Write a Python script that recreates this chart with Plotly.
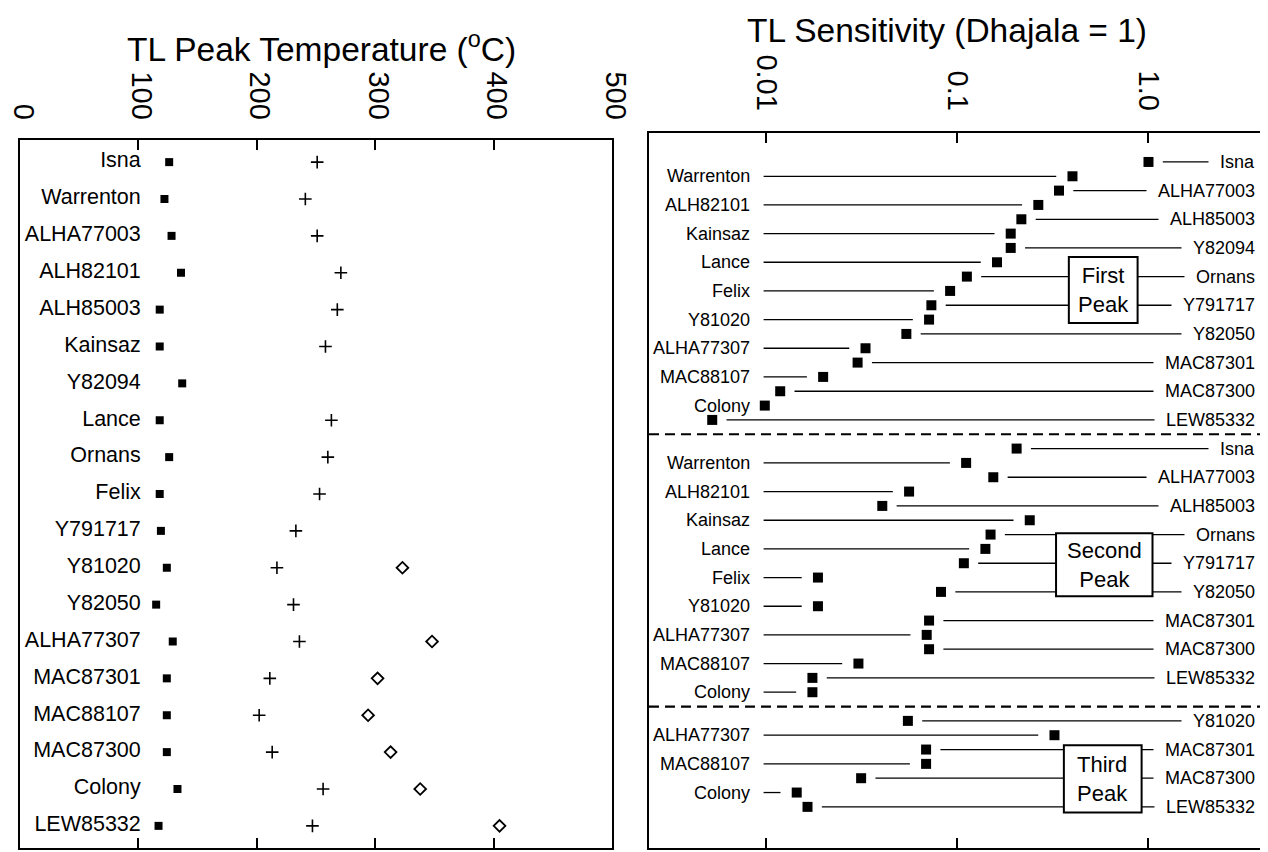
import numpy as np
import plotly.graph_objects as go

# ---------------- data: left panel (TL peak temperatures, deg C) ----------------
meteorites = ["Isna", "Warrenton", "ALHA77003", "ALH82101", "ALH85003", "Kainsaz",
              "Y82094", "Lance", "Ornans", "Felix", "Y791717", "Y81020", "Y82050",
              "ALHA77307", "MAC87301", "MAC88107", "MAC87300", "Colony", "LEW85332"]
first_peak_T = [126, 122, 128, 136, 118, 118, 137, 118, 126, 118, 119, 124, 115,
                129, 124, 124, 124, 133, 117]
second_peak_T = [251, 241, 251, 271, 268, 258, None, 263, 260, 253, 233, 217, 231,
                 236, 211, 202, 213, 256, 247]
third_peak_T = [None, None, None, None, None, None, None, None, None, None, None, 323, None,
                348, 302, 294, 313, 338, 405]
temp_ticks = [0, 100, 200, 300, 400, 500]

# ---------------- data: right panel (TL sensitivity, Dhajala = 1) ----------------
first_names = ["Isna", "Warrenton", "ALHA77003", "ALH82101", "ALH85003", "Kainsaz",
               "Y82094", "Lance", "Ornans", "Felix", "Y791717", "Y81020", "Y82050",
               "ALHA77307", "MAC87301", "MAC88107", "MAC87300", "Colony", "LEW85332"]
first_sens = [1.0, 0.40, 0.34, 0.265, 0.216, 0.19, 0.19, 0.161, 0.112, 0.0915, 0.073,
              0.071, 0.054, 0.033, 0.030, 0.0198, 0.0118, 0.0098, 0.0052]

second_names = ["Isna", "Warrenton", "ALHA77003", "ALH82101", "ALH85003", "Kainsaz",
                "Ornans", "Lance", "Y791717", "Felix", "Y82050", "Y81020", "MAC87301",
                "ALHA77307", "MAC87300", "MAC88107", "LEW85332", "Colony"]
second_sens = [0.204, 0.111, 0.154, 0.0558, 0.0404, 0.239, 0.149, 0.14, 0.108, 0.0186,
               0.082, 0.0186, 0.071, 0.069, 0.071, 0.0303, 0.0174, 0.0174]

third_names = ["Y81020", "ALHA77307", "MAC87301", "MAC88107", "MAC87300", "Colony", "LEW85332"]
third_sens = [0.055, 0.322, 0.0685, 0.0685, 0.0313, 0.0144, 0.0164]

sens_tickvals = [0.01, 0.1, 1.0]
sens_ticktext = ["0.01", "0.1", "1.0"]
peak_titles = ["First<br>Peak", "Second<br>Peak", "Third<br>Peak"]

FONT = "Liberation Sans, Arial, Helvetica, sans-serif"
W, H = 1268, 852
OFF = 8  # page body margin offset
NBSP = "\u00a0"


def px_x(p):
    return (p - OFF) / W


def px_y(p):
    return 1 - (p - OFF) / H


fig = go.Figure()

# ---------------- left panel ----------------
fig.add_trace(go.Scatter(x=first_peak_T, y=meteorites, mode="markers",
                         marker=dict(symbol="square", size=8, color="black"),
                         xaxis="x", yaxis="y"))
fig.add_trace(go.Scatter(x=second_peak_T, y=meteorites, mode="markers",
                         marker=dict(symbol="cross-thin", size=9, color="black",
                                     line=dict(width=1.6, color="black")),
                         xaxis="x", yaxis="y"))
fig.add_trace(go.Scatter(x=third_peak_T, y=meteorites, mode="markers",
                         marker=dict(symbol="diamond-open", size=9, color="black",
                                     line=dict(width=1.8, color="black")),
                         xaxis="x", yaxis="y"))
LABEL_X = 102
fig.add_trace(go.Scatter(x=[LABEL_X] * len(meteorites), y=meteorites, mode="text",
                         text=meteorites, textposition="middle left",
                         textfont=dict(family=FONT, size=21.5, color="black"),
                         xaxis="x", yaxis="y"))

# ---------------- right panel ----------------
sections = [(first_names, first_sens, 0), (second_names, second_sens, 20),
            (third_names, third_sens, 39)]
LEFT_LINE_START = -2.015     # log10, just after left labels
RIGHT_LINE_END = 0.56        # log10, hidden under right labels
GAP_R, GAP_L = 0.075, 0.085  # log10 gap between square and leader line
LEFT_LABEL_X = -2.083
RIGHT_LABEL_X = 0.57

sq_x, sq_y, lx, ly = [], [], [], []
annotations = []
for names, vals, start in sections:
    for i, (nm, v) in enumerate(zip(names, vals)):
        row = start + i
        sq_x.append(v)
        sq_y.append(row)
        lv = np.log10(v)
        if i % 2 == 0:  # label on the right
            lx += [10 ** (lv + GAP_R), 10 ** RIGHT_LINE_END, None]
            ly += [row, row, None]
            annotations.append(dict(x=RIGHT_LABEL_X, y=row, xref="x2", yref="y2",
                                    text=NBSP * 2 + nm, showarrow=False, xanchor="right",
                                    yanchor="middle", bgcolor="white", borderpad=1,
                                    font=dict(family=FONT, size=18, color="black")))
        else:  # label on the left
            end = lv - GAP_L
            if end > LEFT_LINE_START:
                lx += [10 ** LEFT_LINE_START, 10 ** end, None]
                ly += [row, row, None]
            annotations.append(dict(x=LEFT_LABEL_X, y=row, xref="x2", yref="y2",
                                    text=nm, showarrow=False, xanchor="right",
                                    yanchor="middle", borderpad=0,
                                    font=dict(family=FONT, size=18, color="black")))

fig.add_trace(go.Scatter(x=lx, y=ly, mode="lines", line=dict(color="black", width=1.3),
                         xaxis="x2", yaxis="y2"))
fig.add_trace(go.Scatter(x=sq_x, y=sq_y, mode="markers",
                         marker=dict(symbol="square", size=10, color="black"),
                         xaxis="x2", yaxis="y2"))

shapes = []
# section separators
for ysep in (19, 38):
    shapes.append(dict(type="line", xref="x2 domain", x0=0, x1=1, yref="y2", y0=ysep, y1=ysep,
                       line=dict(color="black", width=2.2, dash="10px,6px")))
# peak boxes (log10 x-extent, row extent)
peak_boxes = [(-0.417, -0.057, 6.63, 11.24), (-0.484, 0.021, 25.9, 30.3),
              (-0.443, -0.036, 40.7, 45.4)]
for (bx0, bx1, by0, by1), title in zip(peak_boxes, peak_titles):
    shapes.append(dict(type="rect", xref="x2", yref="y2", x0=10 ** bx0, x1=10 ** bx1,
                       y0=by0, y1=by1, fillcolor="white", layer="above",
                       line=dict(color="black", width=2)))
    annotations.append(dict(x=(bx0 + bx1) / 2, y=(by0 + by1) / 2, xref="x2", yref="y2",
                            text=title, showarrow=False, xanchor="center", yanchor="middle",
                            font=dict(family=FONT, size=22, color="black")))

# titles
annotations.append(dict(x=px_x(321), y=px_y(47), xref="paper", yref="paper",
                        text="TL Peak Temperature (<sup>o</sup>C)", showarrow=False,
                        xanchor="center", yanchor="middle",
                        font=dict(family=FONT, size=33.5, color="black")))
annotations.append(dict(x=px_x(947), y=px_y(30), xref="paper", yref="paper",
                        text="TL Sensitivity (Dhajala = 1)", showarrow=False,
                        xanchor="center", yanchor="middle",
                        font=dict(family=FONT, size=33.5, color="black")))

axis_common = dict(showgrid=False, zeroline=False, showline=True, linecolor="black",
                   linewidth=2, automargin=False)
fig.update_layout(
    width=W, height=H, autosize=False, margin=dict(l=0, r=0, t=0, b=0, pad=0),
    template="none",
    paper_bgcolor="white", plot_bgcolor="white", showlegend=False,
    xaxis=dict(**axis_common, domain=[px_x(20), px_x(612)], range=[0, 500], side="top",
               tickvals=temp_ticks, tickangle=90, ticks="inside", ticklen=10,
               tickwidth=1.5, tickcolor="black", mirror="ticks", anchor="y",
               ticklabelstandoff=8, ticklabelshift=3, ticklabeloverflow="allow",
               tickfont=dict(family=FONT, size=29, color="black")),
    yaxis=dict(**axis_common, domain=[px_y(848), px_y(140)], range=[18.6, -0.6],
               mirror=True, showticklabels=False, ticks="", anchor="x",
               type="category"),
    xaxis2=dict(**axis_common, domain=[px_x(649), px_x(1265)], type="log",
                range=[-2.615, 0.61], side="top", tickvals=sens_tickvals,
                ticktext=sens_ticktext, tickangle=90, ticks="inside", ticklen=10,
                tickwidth=1.5, tickcolor="black", mirror="ticks", anchor="y2",
                ticklabelstandoff=10, ticklabeloverflow="allow",
                tickfont=dict(family=FONT, size=29, color="black")),
    yaxis2=dict(**axis_common, domain=[px_y(848), px_y(133)], range=[47.87, -2.02],
                mirror=True, showticklabels=False, ticks="", anchor="x2"),
    shapes=shapes, annotations=annotations,
)

fig.write_html("out.html")
